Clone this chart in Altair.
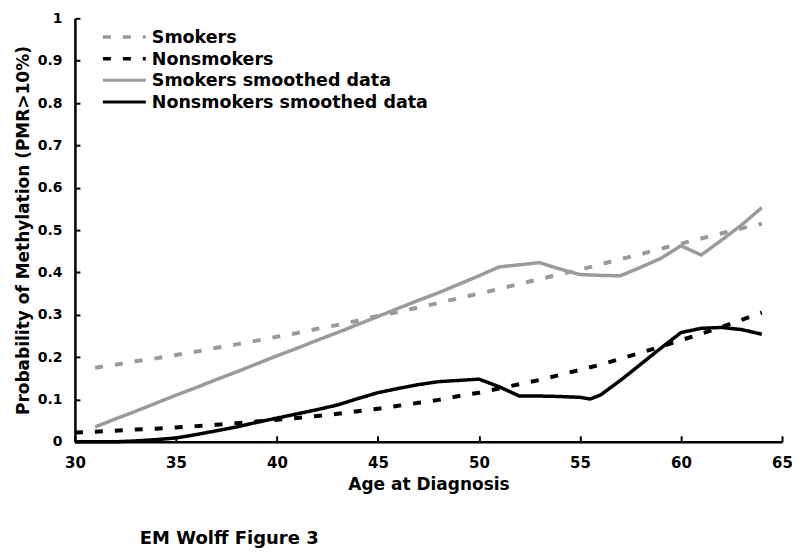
import altair as alt
import pandas as pd

# ---- data ----
series_names = ["Smokers", "Nonsmokers", "Smokers smoothed data", "Nonsmokers smoothed data"]

smk_fit_age = list(range(31, 65))
smk_fit = [0.175, 0.182, 0.190, 0.197, 0.205, 0.213, 0.222, 0.230, 0.239, 0.248,
           0.257, 0.267, 0.276, 0.286, 0.297, 0.307, 0.317, 0.328, 0.339, 0.350,
           0.361, 0.373, 0.384, 0.396, 0.406, 0.419, 0.431, 0.443, 0.456, 0.468,
           0.480, 0.492, 0.504, 0.515]

non_fit_age = list(range(30, 65))
non_fit = [0.022, 0.024, 0.026, 0.029, 0.031, 0.034, 0.037, 0.040, 0.044, 0.048,
           0.052, 0.056, 0.061, 0.066, 0.072, 0.078, 0.085, 0.092, 0.099, 0.108,
           0.116, 0.126, 0.136, 0.146, 0.158, 0.170, 0.182, 0.196, 0.210, 0.225,
           0.240, 0.255, 0.271, 0.288, 0.305]

smk_smooth_age = list(range(31, 65))
smk_smooth = [0.035, 0.054, 0.072, 0.091, 0.110, 0.128, 0.147, 0.165, 0.184, 0.203,
              0.221, 0.240, 0.258, 0.277, 0.296, 0.315, 0.334, 0.352, 0.372, 0.392,
              0.413, 0.418, 0.423, 0.408, 0.395, 0.393, 0.392, 0.412, 0.433, 0.463,
              0.441, 0.476, 0.512, 0.553]

non_smooth_age = [30, 31, 32, 33, 34, 35, 36, 37, 38, 39, 40, 41, 42, 43, 44, 45, 46,
                  47, 48, 49, 50, 51, 52, 53, 54, 55, 55.5, 56, 57, 58, 59, 60, 61,
                  62, 63, 64]
non_smooth = [0.0, 0.0, 0.0, 0.002, 0.005, 0.009, 0.017, 0.026, 0.035, 0.046, 0.056,
              0.066, 0.076, 0.087, 0.102, 0.116, 0.126, 0.135, 0.142, 0.145, 0.148,
              0.130, 0.108, 0.108, 0.107, 0.105, 0.101, 0.110, 0.145, 0.183, 0.221,
              0.258, 0.268, 0.270, 0.265, 0.254]

x_ticks = [30, 35, 40, 45, 50, 55, 60, 65]
y_ticks = [0, 0.1, 0.2, 0.3, 0.4, 0.5, 0.6, 0.7, 0.8, 0.9, 1.0]
figure_label = "EM Wolff Figure 3"

# ---- styling ----
FONT = "DejaVu Sans"
GRAY = "#9a9a9a"
series_colors = [GRAY, "#000000", GRAY, "#000000"]
series_dashes = [[8, 12], [8, 12], [1, 0], [1, 0]]
series_widths = [4, 4, 3.5, 3.5]

# ---- tables ----
def frame(ages, vals, name):
    return pd.DataFrame({"age": ages, "prob": vals, "series": name})

dashed_df = pd.concat([frame(smk_fit_age, smk_fit, series_names[0]),
                       frame(non_fit_age, non_fit, series_names[1])])
solid_df = pd.concat([frame(smk_smooth_age, smk_smooth, series_names[2]),
                      frame(non_smooth_age, non_smooth, series_names[3])])

color_scale = alt.Scale(domain=series_names, range=series_colors)
dash_scale = alt.Scale(domain=series_names, range=series_dashes)

x_enc = alt.X("age:Q", scale=alt.Scale(domain=[30, 65], nice=False, zero=False),
              axis=alt.Axis(values=x_ticks, title="Age at Diagnosis", grid=False,
                            tickSize=alt.ExprRef(expr="-6"), tickWidth=2, tickColor="black",
                            domainColor="black", domainWidth=2.5,
                            labelFont=FONT, labelFontWeight="bold", labelFontSize=15,
                            labelColor="black", labelPadding=20, labelFlush=False,
                            titleFont=FONT, titleFontWeight="bold", titleFontSize=17,
                            titleColor="black", titlePadding=6))
y_enc = alt.Y("prob:Q", scale=alt.Scale(domain=[0, 1], nice=False),
              axis=alt.Axis(values=y_ticks, format=".1~f",
                            title="Probability of Methylation (PMR>10%)", grid=False,
                            tickSize=alt.ExprRef(expr="-5"), tickWidth=2, tickColor="black",
                            domainColor="black", domainWidth=2.5,
                            labelFont=FONT, labelFontWeight="bold", labelFontSize=14,
                            labelColor="black", labelPadding=18, labelFlush=False,
                            titleFont=FONT, titleFontWeight="bold", titleFontSize=17,
                            titleColor="black", titlePadding=5))

dashed = alt.Chart(dashed_df).mark_line(strokeWidth=series_widths[0]).encode(
    x=x_enc, y=y_enc,
    color=alt.Color("series:N", scale=color_scale, legend=None),
    strokeDash=alt.StrokeDash("series:N", scale=dash_scale, legend=None),
    detail="series:N",
)
solid = alt.Chart(solid_df).mark_line(strokeWidth=series_widths[2], strokeJoin="round").encode(
    x=x_enc, y=y_enc,
    color=alt.Color("series:N", scale=color_scale, legend=None),
    strokeDash=alt.StrokeDash("series:N", scale=dash_scale, legend=None),
    detail="series:N",
)

# ---- hand-built legend (top-left, inside plot) ----
legend_layers = []
row_y0, row_step = 18.7, 21.7
for i, name in enumerate(series_names):
    yy = row_y0 + i * row_step
    src = pd.DataFrame({"t": [name]})
    legend_layers.append(
        alt.Chart(src).mark_rule(color=series_colors[i], strokeDash=series_dashes[i],
                                 strokeWidth=series_widths[i] - 0.5)
        .encode(x=alt.value(28), x2=alt.value(71), y=alt.value(yy))
    )
    legend_layers.append(
        alt.Chart(src).mark_text(font=FONT, fontWeight="bold", fontSize=17.5,
                                 align="left", baseline="middle", color="black")
        .encode(x=alt.value(77), y=alt.value(yy + 1), text="t:N")
    )

label = alt.Chart(pd.DataFrame({"t": [figure_label]})).mark_text(
    font=FONT, fontWeight="bold", fontSize=18, align="left", baseline="alphabetic",
    color="black"
).encode(x=alt.value(65), y=alt.value(526), text="t:N")

chart = alt.layer(dashed, solid, *legend_layers, label).properties(
    width=708, height=424,
    autosize=alt.AutoSizeParams(type="none"),
    padding={"left": 67, "top": 10, "right": 10, "bottom": 112},
).configure_view(stroke=None)

chart.save("out.html", embed_options={"renderer": "svg", "actions": False})
